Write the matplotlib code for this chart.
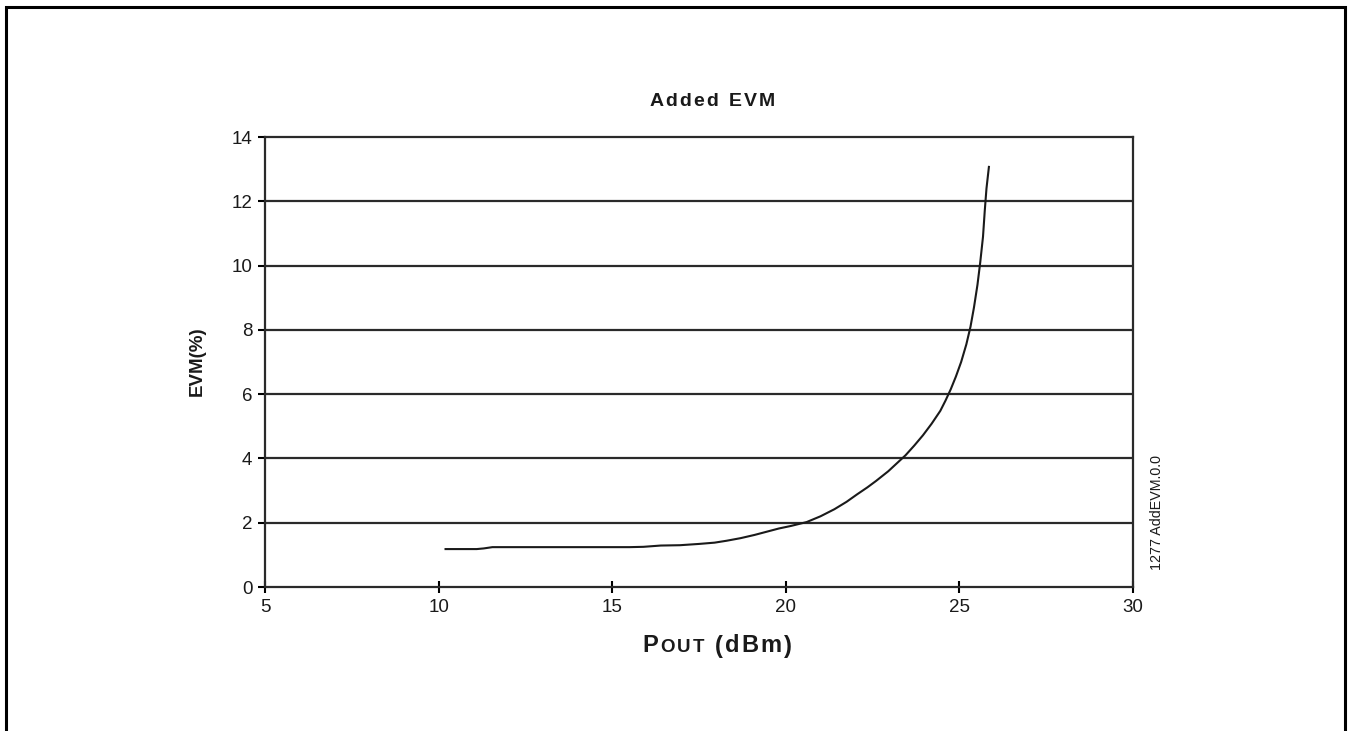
import matplotlib
matplotlib.use("Agg")
import matplotlib.pyplot as plt
from matplotlib.offsetbox import TextArea, HPacker, AnchoredOffsetbox
from matplotlib.patches import Rectangle

plt.rcParams['font.family'] = ['Liberation Sans', 'DejaVu Sans']

# data
pout_dbm = [10.2, 10.7, 11.1, 11.3, 11.55, 12.5, 13.5, 14.5, 15.5, 15.9, 16.4, 16.95,
            17.5, 17.95, 18.3, 18.7, 19.1, 19.45, 19.8, 20.15, 20.6, 21.0, 21.4,
            21.75, 22.05, 22.35, 22.6, 22.95, 23.2, 23.45, 23.7, 23.95, 24.2,
            24.45, 24.6, 24.75, 24.9, 25.05, 25.2, 25.32, 25.42, 25.52, 25.6,
            25.68, 25.73, 25.78, 25.85]
evm_pct = [1.18, 1.18, 1.18, 1.2, 1.24, 1.24, 1.24, 1.24, 1.24, 1.25, 1.29, 1.3,
           1.34, 1.38, 1.44, 1.52, 1.62, 1.72, 1.82, 1.9, 2.02, 2.2, 2.42,
           2.65, 2.88, 3.1, 3.3, 3.6, 3.85, 4.1, 4.4, 4.72, 5.08,
           5.48, 5.8, 6.15, 6.55, 7.0, 7.55, 8.1, 8.7, 9.4, 10.1,
           10.9, 11.7, 12.4, 13.07]

x_ticks = [5, 10, 15, 20, 25, 30]
y_ticks = [0, 2, 4, 6, 8, 10, 12, 14]

W, H = 1350, 731


def spaced_label(fig, pieces, center, sep):
    # pieces: list of (text, fontsize); each char is its own box so we get letter spacing
    children = []
    for txt, size in pieces:
        for ch in txt:
            children.append(TextArea(ch, textprops=dict(fontsize=size, fontweight='bold',
                                                        color='#1a1a1a')))
    packed = HPacker(children=children, align='baseline', pad=0, sep=sep)
    box = AnchoredOffsetbox(loc='center', child=packed, frameon=False, pad=0, borderpad=0,
                            bbox_to_anchor=(center[0] / W, 1 - center[1] / H),
                            bbox_transform=fig.transFigure)
    fig.add_artist(box)


fig = plt.figure(figsize=(W / 100, H / 100), dpi=100)
ax = fig.add_axes([265 / W, 1 - 587 / H, (1133 - 265) / W, (587 - 137) / H])

# outer frame
fig.patches.append(Rectangle((6 / W, -0.01), (1345 - 6) / W, 1 - 7 / H + 0.01,
                             transform=fig.transFigure, fill=False,
                             edgecolor='black', linewidth=2.2))

for y in y_ticks[1:-1]:
    ax.axhline(y, color='#2a2a2a', linewidth=1.6, zorder=1)

ax.plot(pout_dbm, evm_pct, color='#1a1a1a', linewidth=1.5, zorder=3)

ax.set_xlim(5, 30)
ax.set_ylim(0, 14)
ax.set_xticks(x_ticks)
ax.set_yticks(y_ticks)
for s in ax.spines.values():
    s.set_linewidth(1.6)
    s.set_color('#2a2a2a')
ax.tick_params(axis='x', direction='inout', length=8, width=1.5, labelsize=13.5, pad=5,
               labelcolor='#1a1a1a')
ax.tick_params(axis='y', direction='out', length=5, width=1.5, labelsize=13.5, pad=4,
               labelcolor='#1a1a1a')

spaced_label(fig, [('Added EVM', 14)], (712, 101), 1.6)
fig.text(197 / W, 1 - 361 / H, 'EVM(%)', ha='center', va='center',
         rotation=90, fontsize=13.5, fontweight='bold', color='#1a1a1a')
fig.text(1157 / W, 1 - 512 / H, '1277 AddEVM.0.0', ha='center', va='center',
         rotation=90, fontsize=10.3, color='#1a1a1a')

# P with small-caps "OUT"
spaced_label(fig, [('P', 17), ('OUT', 13.5), (' (dBm)', 17)], (717, 646), 1.5)

fig.savefig('out.png', dpi=100, facecolor='white')
